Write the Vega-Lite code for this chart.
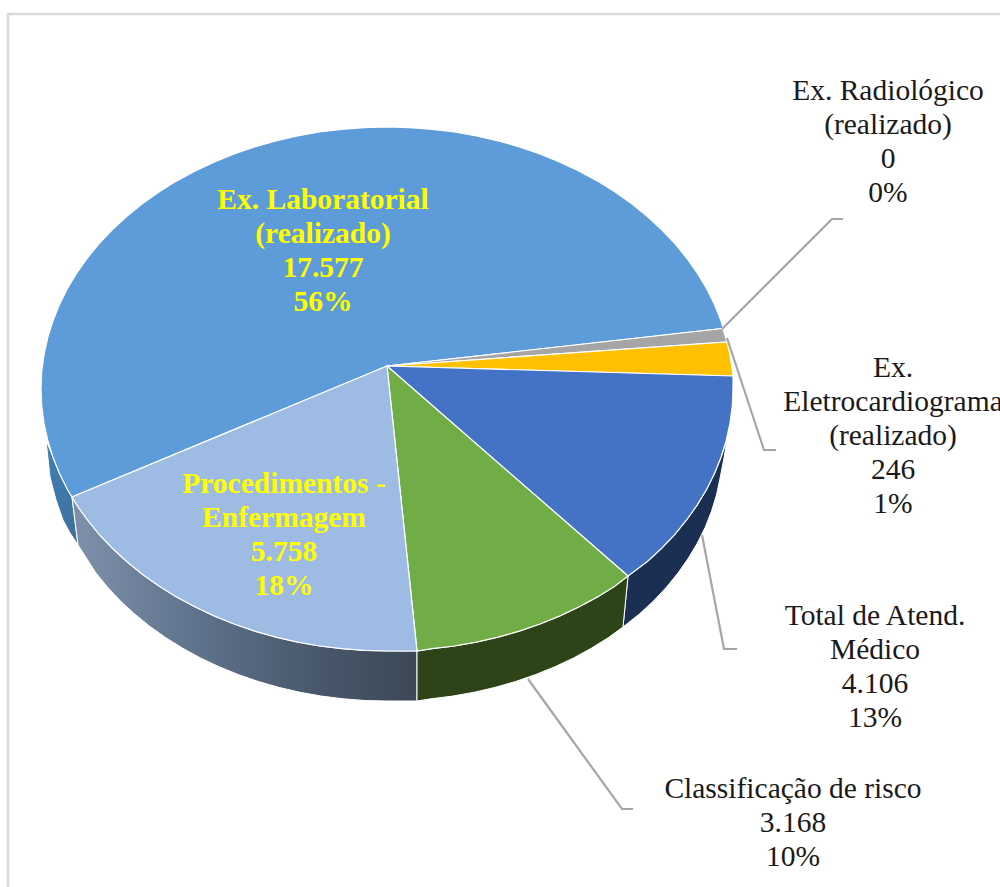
{"$schema":"https://vega.github.io/schema/vega-lite/v6.json","width":1000,"height":887,"autosize":"none","padding":0,"background":"white","config":{"view":{"stroke":null}},
"datasets":{
"moldura":[{"i":1,"x":1000,"y":14},{"i":2,"x":8,"y":14},{"i":3,"x":8,"y":887}],
"lateral":[
{"p":"Eletro lado","i":1,"x":727,"y":440},{"p":"Eletro lado","i":2,"x":721.2,"y":456.8},{"p":"Eletro lado","i":3,"x":714.6,"y":473.2},{"p":"Eletro lado","i":4,"x":706.7,"y":489.3},{"p":"Eletro lado","i":5,"x":697.3,"y":504.9},{"p":"Eletro lado","i":6,"x":686.6,"y":520},{"p":"Eletro lado","i":7,"x":674.7,"y":534.6},{"p":"Eletro lado","i":8,"x":661.5,"y":548.5},{"p":"Eletro lado","i":9,"x":647.1,"y":561.8},{"p":"Eletro lado","i":10,"x":628,"y":576},{"p":"Eletro lado","i":11,"x":623,"y":627},{"p":"Eletro lado","i":12,"x":639.6,"y":613.8},{"p":"Eletro lado","i":13,"x":653.6,"y":600.9},{"p":"Eletro lado","i":14,"x":666.4,"y":587.2},{"p":"Eletro lado","i":15,"x":678,"y":573},{"p":"Eletro lado","i":16,"x":688.3,"y":558.2},{"p":"Eletro lado","i":17,"x":697.4,"y":543},{"p":"Eletro lado","i":18,"x":705.2,"y":527.3},{"p":"Eletro lado","i":19,"x":711.5,"y":511.3},{"p":"Eletro lado","i":20,"x":716.5,"y":494.9},{"p":"Eletro lado","i":21,"x":720,"y":478.4},{"p":"Eletro lado","i":22,"x":724,"y":458},
{"p":"Risco lado","i":1,"x":628,"y":576},{"p":"Risco lado","i":2,"x":615.1,"y":586},{"p":"Risco lado","i":3,"x":597.6,"y":596.9},{"p":"Risco lado","i":4,"x":579.2,"y":606.8},{"p":"Risco lado","i":5,"x":560,"y":615.9},{"p":"Risco lado","i":6,"x":540,"y":624},{"p":"Risco lado","i":7,"x":519.4,"y":631.1},{"p":"Risco lado","i":8,"x":498.2,"y":637.1},{"p":"Risco lado","i":9,"x":476.5,"y":642.1},{"p":"Risco lado","i":10,"x":454.5,"y":646},{"p":"Risco lado","i":11,"x":432.2,"y":648.7},{"p":"Risco lado","i":12,"x":417,"y":651},{"p":"Risco lado","i":13,"x":417,"y":701},{"p":"Risco lado","i":14,"x":430.8,"y":698.8},{"p":"Risco lado","i":15,"x":452.6,"y":696.1},{"p":"Risco lado","i":16,"x":474,"y":692.3},{"p":"Risco lado","i":17,"x":495,"y":687.4},{"p":"Risco lado","i":18,"x":515.6,"y":681.5},{"p":"Risco lado","i":19,"x":535.6,"y":674.6},{"p":"Risco lado","i":20,"x":555,"y":666.7},{"p":"Risco lado","i":21,"x":573.7,"y":657.9},{"p":"Risco lado","i":22,"x":591.6,"y":648.1},{"p":"Risco lado","i":23,"x":608.5,"y":637.5},{"p":"Risco lado","i":24,"x":623,"y":627}
],
"ladoProc":[
{"i":1,"x":417,"y":651},{"i":2,"x":387,"y":651},{"i":3,"x":364.4,"y":650.4},{"i":4,"x":341.8,"y":648.7},{"i":5,"x":319.5,"y":646},{"i":6,"x":297.5,"y":642.1},{"i":7,"x":275.8,"y":637.1},{"i":8,"x":254.6,"y":631.1},{"i":9,"x":234,"y":624},{"i":10,"x":214,"y":615.9},{"i":11,"x":194.8,"y":606.8},{"i":12,"x":176.4,"y":596.9},{"i":13,"x":158.9,"y":586},{"i":14,"x":142.3,"y":574.3},{"i":15,"x":126.9,"y":561.8},{"i":16,"x":112.5,"y":548.5},{"i":17,"x":99.3,"y":534.6},{"i":18,"x":87.4,"y":520},{"i":19,"x":76.7,"y":504.9},{"i":20,"x":72,"y":497},{"i":21,"x":78,"y":545},{"i":22,"x":96,"y":573},{"i":23,"x":107.6,"y":587.2},{"i":24,"x":120.4,"y":600.9},{"i":25,"x":134.4,"y":613.8},{"i":26,"x":149.4,"y":626},{"i":27,"x":165.5,"y":637.5},{"i":28,"x":182.4,"y":648.1},{"i":29,"x":200.3,"y":657.9},{"i":30,"x":219,"y":666.7},{"i":31,"x":238.4,"y":674.6},{"i":32,"x":258.4,"y":681.5},{"i":33,"x":279,"y":687.4},{"i":34,"x":300,"y":692.3},{"i":35,"x":321.4,"y":696.1},{"i":36,"x":343.2,"y":698.8},{"i":37,"x":365,"y":700.5},{"i":38,"x":387,"y":701},{"i":39,"x":417,"y":701}
],
"ladoLab":[
{"i":1,"x":46,"y":440},{"i":2,"x":52.8,"y":456.8},{"i":3,"x":59.4,"y":473.2},{"i":4,"x":67.3,"y":489.3},{"i":5,"x":72,"y":497},{"i":6,"x":78,"y":545},{"i":7,"x":70,"y":533},{"i":8,"x":63,"y":520},{"i":9,"x":56,"y":500},{"i":10,"x":50,"y":477}
],
"topo":[
{"p":"Laboratorial","i":1,"x":387,"y":366},{"p":"Laboratorial","i":2,"x":72,"y":497},{"p":"Laboratorial","i":3,"x":67.3,"y":489.3},{"p":"Laboratorial","i":4,"x":59.4,"y":473.2},{"p":"Laboratorial","i":5,"x":52.8,"y":456.8},{"p":"Laboratorial","i":6,"x":47.7,"y":440.1},{"p":"Laboratorial","i":7,"x":44,"y":423.2},{"p":"Laboratorial","i":8,"x":41.7,"y":406.1},{"p":"Laboratorial","i":9,"x":41,"y":389},{"p":"Laboratorial","i":10,"x":41.7,"y":371.9},{"p":"Laboratorial","i":11,"x":44,"y":354.8},{"p":"Laboratorial","i":12,"x":47.7,"y":337.9},{"p":"Laboratorial","i":13,"x":52.8,"y":321.2},{"p":"Laboratorial","i":14,"x":59.4,"y":304.8},{"p":"Laboratorial","i":15,"x":67.3,"y":288.7},{"p":"Laboratorial","i":16,"x":76.7,"y":273.1},{"p":"Laboratorial","i":17,"x":87.4,"y":258},{"p":"Laboratorial","i":18,"x":99.3,"y":243.4},{"p":"Laboratorial","i":19,"x":112.5,"y":229.5},{"p":"Laboratorial","i":20,"x":126.9,"y":216.2},{"p":"Laboratorial","i":21,"x":142.3,"y":203.7},{"p":"Laboratorial","i":22,"x":158.9,"y":192},{"p":"Laboratorial","i":23,"x":176.4,"y":181.1},{"p":"Laboratorial","i":24,"x":194.8,"y":171.2},{"p":"Laboratorial","i":25,"x":214,"y":162.1},{"p":"Laboratorial","i":26,"x":234,"y":154},{"p":"Laboratorial","i":27,"x":254.6,"y":146.9},{"p":"Laboratorial","i":28,"x":275.8,"y":140.9},{"p":"Laboratorial","i":29,"x":297.5,"y":135.9},{"p":"Laboratorial","i":30,"x":319.5,"y":132},{"p":"Laboratorial","i":31,"x":341.8,"y":129.3},{"p":"Laboratorial","i":32,"x":364.4,"y":127.6},{"p":"Laboratorial","i":33,"x":387,"y":127},{"p":"Laboratorial","i":34,"x":409.6,"y":127.6},{"p":"Laboratorial","i":35,"x":432.2,"y":129.3},{"p":"Laboratorial","i":36,"x":454.5,"y":132},{"p":"Laboratorial","i":37,"x":476.5,"y":135.9},{"p":"Laboratorial","i":38,"x":498.2,"y":140.9},{"p":"Laboratorial","i":39,"x":519.4,"y":146.9},{"p":"Laboratorial","i":40,"x":540,"y":154},{"p":"Laboratorial","i":41,"x":560,"y":162.1},{"p":"Laboratorial","i":42,"x":579.2,"y":171.2},{"p":"Laboratorial","i":43,"x":597.6,"y":181.1},{"p":"Laboratorial","i":44,"x":615.1,"y":192},{"p":"Laboratorial","i":45,"x":631.7,"y":203.7},{"p":"Laboratorial","i":46,"x":647.1,"y":216.2},{"p":"Laboratorial","i":47,"x":661.5,"y":229.5},{"p":"Laboratorial","i":48,"x":674.7,"y":243.4},{"p":"Laboratorial","i":49,"x":686.6,"y":258},{"p":"Laboratorial","i":50,"x":697.3,"y":273.1},{"p":"Laboratorial","i":51,"x":706.7,"y":288.7},{"p":"Laboratorial","i":52,"x":714.6,"y":304.8},{"p":"Laboratorial","i":53,"x":721.2,"y":321.2},{"p":"Laboratorial","i":54,"x":723,"y":328.5},
{"p":"Radiologico","i":1,"x":387,"y":366},{"p":"Radiologico","i":2,"x":723,"y":328.5},{"p":"Radiologico","i":3,"x":727,"y":342},
{"p":"Eletrocardiograma","i":1,"x":387,"y":366},{"p":"Eletrocardiograma","i":2,"x":727,"y":342},{"p":"Eletrocardiograma","i":3,"x":730,"y":354.8},{"p":"Eletrocardiograma","i":4,"x":733,"y":376},
{"p":"Atendimento","i":1,"x":387,"y":366},{"p":"Atendimento","i":2,"x":733,"y":376},{"p":"Atendimento","i":3,"x":733,"y":389},{"p":"Atendimento","i":4,"x":732.3,"y":406.1},{"p":"Atendimento","i":5,"x":730,"y":423.2},{"p":"Atendimento","i":6,"x":726.3,"y":440.1},{"p":"Atendimento","i":7,"x":721.2,"y":456.8},{"p":"Atendimento","i":8,"x":714.6,"y":473.2},{"p":"Atendimento","i":9,"x":706.7,"y":489.3},{"p":"Atendimento","i":10,"x":697.3,"y":504.9},{"p":"Atendimento","i":11,"x":686.6,"y":520},{"p":"Atendimento","i":12,"x":674.7,"y":534.6},{"p":"Atendimento","i":13,"x":661.5,"y":548.5},{"p":"Atendimento","i":14,"x":647.1,"y":561.8},{"p":"Atendimento","i":15,"x":628,"y":576},
{"p":"Risco","i":1,"x":387,"y":366},{"p":"Risco","i":2,"x":628,"y":576},{"p":"Risco","i":3,"x":615.1,"y":586},{"p":"Risco","i":4,"x":597.6,"y":596.9},{"p":"Risco","i":5,"x":579.2,"y":606.8},{"p":"Risco","i":6,"x":560,"y":615.9},{"p":"Risco","i":7,"x":540,"y":624},{"p":"Risco","i":8,"x":519.4,"y":631.1},{"p":"Risco","i":9,"x":498.2,"y":637.1},{"p":"Risco","i":10,"x":476.5,"y":642.1},{"p":"Risco","i":11,"x":454.5,"y":646},{"p":"Risco","i":12,"x":432.2,"y":648.7},{"p":"Risco","i":13,"x":417,"y":651},
{"p":"Procedimentos","i":1,"x":387,"y":366},{"p":"Procedimentos","i":2,"x":417,"y":651},{"p":"Procedimentos","i":3,"x":387,"y":651},{"p":"Procedimentos","i":4,"x":364.4,"y":650.4},{"p":"Procedimentos","i":5,"x":341.8,"y":648.7},{"p":"Procedimentos","i":6,"x":319.5,"y":646},{"p":"Procedimentos","i":7,"x":297.5,"y":642.1},{"p":"Procedimentos","i":8,"x":275.8,"y":637.1},{"p":"Procedimentos","i":9,"x":254.6,"y":631.1},{"p":"Procedimentos","i":10,"x":234,"y":624},{"p":"Procedimentos","i":11,"x":214,"y":615.9},{"p":"Procedimentos","i":12,"x":194.8,"y":606.8},{"p":"Procedimentos","i":13,"x":176.4,"y":596.9},{"p":"Procedimentos","i":14,"x":158.9,"y":586},{"p":"Procedimentos","i":15,"x":142.3,"y":574.3},{"p":"Procedimentos","i":16,"x":126.9,"y":561.8},{"p":"Procedimentos","i":17,"x":112.5,"y":548.5},{"p":"Procedimentos","i":18,"x":99.3,"y":534.6},{"p":"Procedimentos","i":19,"x":87.4,"y":520},{"p":"Procedimentos","i":20,"x":76.7,"y":504.9},{"p":"Procedimentos","i":21,"x":72,"y":497}
],
"guias":[
{"p":"Radiologico","i":1,"x":722,"y":329},{"p":"Radiologico","i":2,"x":832,"y":219},{"p":"Radiologico","i":3,"x":843,"y":219},
{"p":"Eletrocardiograma","i":1,"x":727,"y":338},{"p":"Eletrocardiograma","i":2,"x":764,"y":450},{"p":"Eletrocardiograma","i":3,"x":776,"y":450},
{"p":"Atendimento","i":1,"x":702,"y":535},{"p":"Atendimento","i":2,"x":724,"y":649},{"p":"Atendimento","i":3,"x":737,"y":649},
{"p":"Risco","i":1,"x":528,"y":679},{"p":"Risco","i":2,"x":622,"y":809},{"p":"Risco","i":3,"x":633,"y":809}
],
"rotulos":[
{"categoria":"Ex. Radiológico (realizado)","valor":0,"pct":0,"rotulo":"Ex. Radiológico\n(realizado)\n0\n0%","x":888,"y":100,"destaque":"nao"},
{"categoria":"Ex. Eletrocardiograma (realizado)","valor":246,"pct":1,"rotulo":"Ex.\nEletrocardiograma\n(realizado)\n246\n1%","x":893,"y":377,"destaque":"nao"},
{"categoria":"Total de Atend. Médico","valor":4106,"pct":13,"rotulo":"Total de Atend.\nMédico\n4.106\n13%","x":875,"y":625,"destaque":"nao"},
{"categoria":"Classificação de risco","valor":3168,"pct":10,"rotulo":"Classificação de risco\n3.168\n10%","x":793,"y":798,"destaque":"nao"},
{"categoria":"Ex. Laboratorial (realizado)","valor":17577,"pct":56,"rotulo":"Ex. Laboratorial\n(realizado)\n17.577\n56%","x":323,"y":209,"destaque":"sim"},
{"categoria":"Procedimentos - Enfermagem","valor":5758,"pct":18,"rotulo":"Procedimentos -\nEnfermagem\n5.758\n18%","x":284,"y":493,"destaque":"sim"}
]},
"encoding":{
"x":{"field":"x","type":"quantitative","scale":{"domain":[0,1000],"nice":false,"zero":false},"axis":null},
"y":{"field":"y","type":"quantitative","scale":{"domain":[0,887],"reverse":true,"nice":false,"zero":false},"axis":null}
},
"layer":[
{"data":{"name":"moldura"},"mark":{"type":"line","stroke":"#d9d9d9","strokeWidth":2.5},"encoding":{"order":{"field":"i"}}},
{"data":{"name":"ladoLab"},"mark":{"type":"line","interpolate":"linear-closed","stroke":"#ffffff","strokeWidth":1,"fill":{"x1":0,"y1":0,"x2":1,"y2":1,"gradient":"linear","stops":[{"offset":0,"color":"#3f7fb5"},{"offset":1,"color":"#3f709c"}]}},"encoding":{"order":{"field":"i"}}},
{"data":{"name":"ladoProc"},"mark":{"type":"line","interpolate":"linear-closed","stroke":"#ffffff","strokeWidth":1,"fill":{"x1":0,"y1":0,"x2":1,"y2":0,"gradient":"linear","stops":[{"offset":0,"color":"#7e90aa"},{"offset":0.4,"color":"#5c6f88"},{"offset":0.75,"color":"#465568"},{"offset":1,"color":"#3c4856"}]}},"encoding":{"order":{"field":"i"}}},
{"data":{"name":"lateral"},"mark":{"type":"line","interpolate":"linear-closed","stroke":"#ffffff","strokeWidth":1},"encoding":{"order":{"field":"i"},"fill":{"field":"p","type":"nominal","legend":null,"scale":{"domain":["Eletro lado","Risco lado"],"range":["#1b2f52","#2d4318"]}}}},
{"data":{"name":"topo"},"mark":{"type":"line","interpolate":"linear-closed","stroke":"#ffffff","strokeWidth":1.2},"encoding":{"order":{"field":"i"},"fill":{"field":"p","type":"nominal","legend":null,"scale":{"domain":["Laboratorial","Radiologico","Eletrocardiograma","Atendimento","Risco","Procedimentos"],"range":["#5d9cd8","#a5a5a5","#ffc000","#4472c4","#70ad47","#9dbbe3"]}}}},
{"data":{"name":"guias"},"mark":{"type":"line","stroke":"#a6a6a6","strokeWidth":2.2},"encoding":{"order":{"field":"i"},"detail":{"field":"p"}}},
{"data":{"name":"rotulos"},"transform":[{"filter":"datum.destaque == 'nao'"}],"mark":{"type":"text","font":"Liberation Serif","fontSize":29.5,"lineHeight":34,"lineBreak":"\n","align":"center","baseline":"alphabetic","color":"#1a1a1a"},"encoding":{"text":{"field":"rotulo"}}},
{"data":{"name":"rotulos"},"transform":[{"filter":"datum.destaque == 'sim'"}],"mark":{"type":"text","font":"Liberation Serif","fontSize":29.5,"fontWeight":"bold","lineHeight":34,"lineBreak":"\n","align":"center","baseline":"alphabetic","color":"#ffff00"},"encoding":{"text":{"field":"rotulo"}}}
],
"resolve":{"scale":{"fill":"independent"}}
}
